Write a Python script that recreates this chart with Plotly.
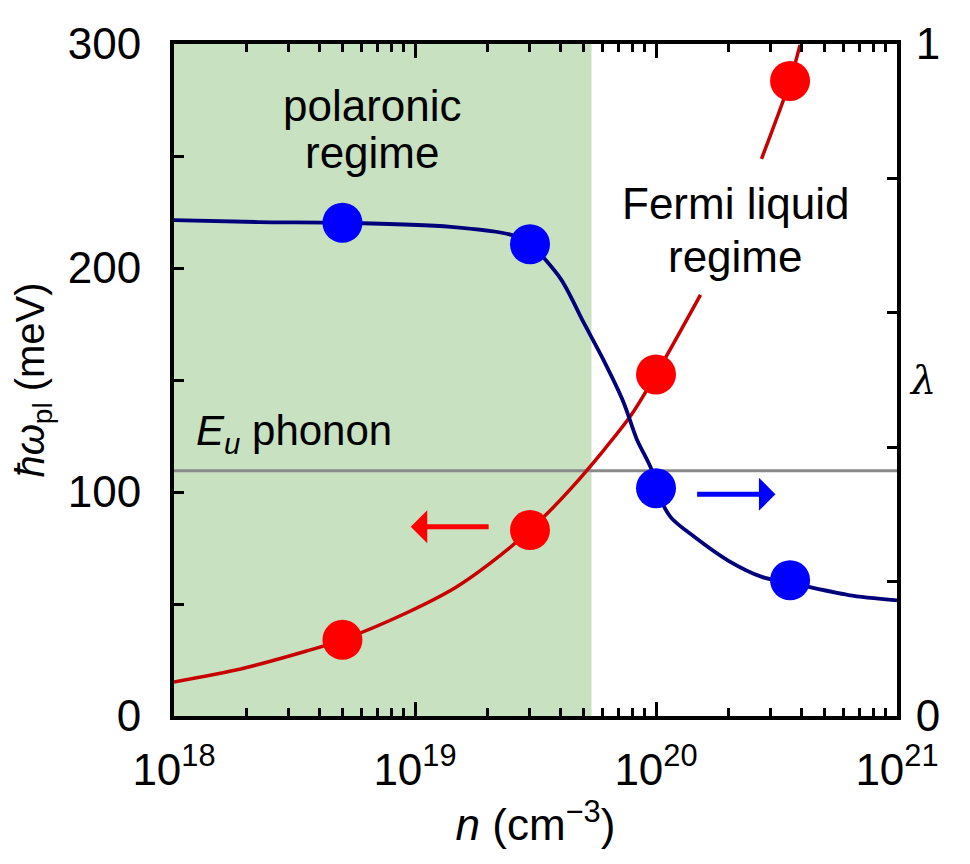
import math
import plotly.graph_objects as go

# --- data ---
# markers (carrier density in cm^-3)
n_points = [5.0e18, 3.0e19, 1.0e20, 3.6e20]
omega_points = [34, 83, 152.5, 283.5]          # hbar*omega_pl (meV), left axis
lambda_points = [0.734, 0.702, 0.339, 0.202]   # lambda, right axis

# red guide curve (two pieces, broken by the "Fermi liquid regime" label)
n_red = [1.0e18, 1.89e18, 3.55e18, 5.0e18, 9.2e18, 1.48e19, 2.04e19, 3.0e19, 4.52e19, 7.85e19,
         1.0e20, 1.53e20,
         None, 2.74e20, 3.6e20, 3.96e20]
omega_red = [15.2, 21, 29, 34, 46, 57.5, 68, 83, 102.5, 134,
             152.5, 188,
             None, 248.7, 283.5, 299.6]

# blue guide curve
n_blue = [1.0e18, 2.24e18, 5.0e18, 1.41e19, 2.51e19, 3.0e19, 4.03e19, 5.0e19, 6.03e19,
          7.33e19, 8.32e19, 9.55e19, 1.0e20, 1.15e20, 1.45e20, 2.0e20, 2.75e20, 3.6e20,
          6.3e20, 1.0e21]
lambda_blue = [0.738, 0.735, 0.734, 0.728, 0.716, 0.702, 0.650, 0.586, 0.531,
               0.467, 0.412, 0.368, 0.339, 0.296, 0.266, 0.231, 0.207, 0.198,
               0.180, 0.172]

polaronic_edge = 5.4e19   # end of the shaded polaronic region
eu_phonon = 109.5         # meV

x_ticks = [1e18, 1e19, 1e20, 1e21]
x_labels = ['10<sup>18</sup>', '10<sup>19</sup>', '10<sup>20</sup>', '10<sup>21</sup>']
y_ticks = [0, 100, 200, 300]
y2_ticks = [0, 0.2, 0.4, 0.6, 0.8, 1.0]
y2_labels = ['0', '', '', '', '', '1']

FONT = 'Liberation Sans, Arial, sans-serif'
RED_LINE = '#c80000'
BLUE_LINE = '#00007a'
XMIN, XMAX = 18, 21

fig = go.Figure()

fig.add_trace(go.Scatter(x=n_red, y=omega_red, mode='lines',
                         line=dict(color=RED_LINE, width=3.5, shape='spline', smoothing=0.8),
                         connectgaps=False, showlegend=False))
fig.add_trace(go.Scatter(x=n_blue, y=lambda_blue, mode='lines', yaxis='y2',
                         line=dict(color=BLUE_LINE, width=3.8, shape='spline', smoothing=0.8),
                         showlegend=False))
fig.add_trace(go.Scatter(x=n_points, y=omega_points, mode='markers',
                         marker=dict(color='#ff0000', size=40), showlegend=False))
fig.add_trace(go.Scatter(x=n_points, y=lambda_points, mode='markers', yaxis='y2',
                         marker=dict(color='#0000ff', size=40), showlegend=False))

edge_frac = (math.log10(polaronic_edge) - XMIN) / (XMAX - XMIN)
shapes = [
    dict(type='rect', xref='paper', yref='paper', x0=0, x1=edge_frac, y0=0, y1=1,
         fillcolor='#c8e1c0', line=dict(width=0), layer='below'),
    dict(type='line', xref='paper', yref='y', x0=0, x1=1, y0=eu_phonon, y1=eu_phonon,
         line=dict(color='#8a8a8a', width=3), layer='below'),
]

TXT = dict(family=FONT, color='black', size=44)


def label(text, x, y, **kw):
    d = dict(x=x, y=y, xref='paper', yref='paper', text=text, showarrow=False,
             xanchor='center', yanchor='middle', font=TXT)
    d.update(kw)
    return d


annotations = [
    label('polaronic', 0.275, 0.908),
    label('regime', 0.275, 0.838),
    label('Fermi liquid', 0.776, 0.762),
    label('regime', 0.776, 0.684),
    label('<i>E<sub>u</sub></i> phonon', 0.028, 0.42, xanchor='left',
          font=dict(family=FONT, color='black', size=42)),
    label('<i>λ</i>', 1.035, 0.5, font=dict(size=40, family='DejaVu Serif, serif', color='black')),
    # arrows
    dict(x=math.log10(9.6e18), y=84.5, ax=math.log10(2.05e19), ay=84.5, xref='x', yref='y', axref='x', ayref='y',
         text='', showarrow=True, arrowhead=1, arrowsize=1.1, arrowwidth=5, arrowcolor='#ff0000'),
    dict(x=math.log10(3.13e20), y=99, ax=math.log10(1.46e20), ay=99, xref='x', yref='y', axref='x', ayref='y',
         text='', showarrow=True, arrowhead=1, arrowsize=1.1, arrowwidth=5, arrowcolor='#0000ff'),
]

fig.update_layout(
    width=970, height=864,
    margin=dict(l=166, r=81, t=36, b=156),
    plot_bgcolor='rgba(0,0,0,0)', paper_bgcolor='white',
    font=dict(family=FONT, size=44, color='black'),
    shapes=shapes,
    annotations=annotations,
    xaxis=dict(type='log', range=[XMIN, XMAX], tickvals=x_ticks, ticktext=x_labels,
               ticks='inside', ticklen=14, tickwidth=3, tickcolor='black',
               minor=dict(dtick='D1', ticks='inside', ticklen=8, tickwidth=3, tickcolor='black', showgrid=False),
               showline=True, linewidth=4, linecolor='black', mirror='ticks', showgrid=False, zeroline=False,
               ticklabelstandoff=12,
               title=dict(text='<i>n</i> (cm<sup>−3</sup>)', font=dict(size=44), standoff=14)),
    yaxis=dict(range=[0, 300], tickvals=y_ticks, ticks='inside', ticklen=10, tickwidth=3, tickcolor='black',
               minor=dict(dtick=50, ticks='inside', ticklen=10, tickwidth=3, tickcolor='black', showgrid=False),
               showline=True, linewidth=4, linecolor='black', showgrid=False, zeroline=False,
               ticklabelstandoff=20,
               title=dict(text='<i>ħω</i><sub>pl</sub> (meV)', font=dict(size=40), standoff=18)),
    yaxis2=dict(range=[0, 1], overlaying='y', side='right', tickvals=y2_ticks, ticktext=y2_labels,
                ticks='inside', ticklen=10, tickwidth=3, tickcolor='black',
                showline=True, linewidth=4, linecolor='black', showgrid=False, zeroline=False,
                ticklabelstandoff=6),
)

fig.write_html('out.html')
